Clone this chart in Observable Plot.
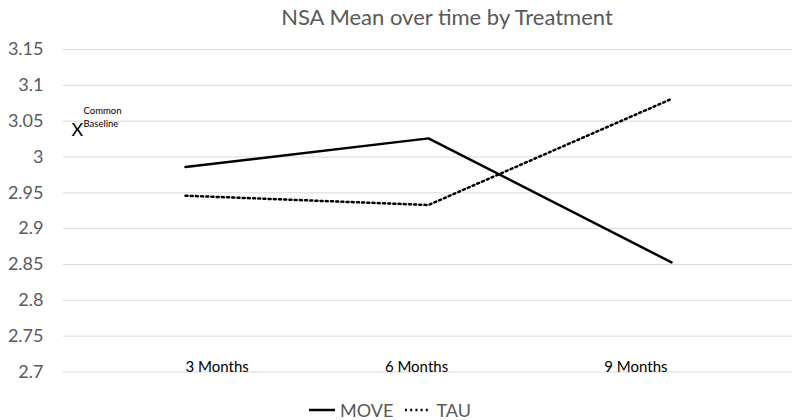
<!DOCTYPE html>
<html>
<head>
<meta charset="utf-8">
<script src="https://cdn.jsdelivr.net/npm/d3@7"></script>
<script src="https://cdn.jsdelivr.net/npm/@observablehq/plot@0.6"></script>
<style>
  body { margin: 0; background: #fff; font-family: Lato, "Open Sans", sans-serif; }
  #title { height: 32px; line-height: 34px; font-size: 22px; color: #595959; text-align: center; padding-left: 94px; box-sizing: border-box; width: 800px; }
  #chart svg { display: block; }
  #legend { height: 23px; padding-top: 3px; display: flex; justify-content: center; align-items: center; padding-right: 20px; box-sizing: border-box; width: 800px; font-size: 18px; line-height: 20px; color: #595959; }
  #legend .item { display: flex; align-items: center; margin: 0 6px; }
  #legend svg { margin-right: 5px; display: block; }
</style>
</head>
<body>
<div id="title">NSA Mean over time by Treatment</div>
<div id="chart"></div>
<div id="legend"></div>
<script>
const months = ["3 Months", "6 Months", "9 Months"];
const moveValues = [2.986, 3.026, 2.853];
const tauValues = [2.946, 2.933, 3.081];
const yTicks = [2.7, 2.75, 2.8, 2.85, 2.9, 2.95, 3, 3.05, 3.1, 3.15];
const seriesNames = ["MOVE", "TAU"];
const baselineValue = 3.038;
const baselineLabel = "Common\nBaseline";

// label alignment (style only)
const labelAnchors = [["start", 0], ["middle", -12], ["end", -4]];

const moveData = months.map((m, i) => ({month: m, value: moveValues[i]}));
const tauData = months.map((m, i) => ({month: m, value: tauValues[i]}));

const chart = Plot.plot({
  width: 800,
  height: 365,
  marginLeft: 63,
  marginRight: 8,
  marginTop: 17,
  marginBottom: 25.5,
  style: {fontFamily: "Lato, 'Open Sans', sans-serif", background: "#fff"},
  x: {type: "point", domain: months, padding: 0.5, axis: null},
  y: {domain: [2.7, 3.15]},
  marks: [
    Plot.ruleY(yTicks, {stroke: "#d9d9d9", strokeWidth: 1}),
    Plot.axisY({ticks: yTicks, tickSize: 0, tickPadding: 20, fontSize: 18, color: "#595959",
      tickFormat: d => String(+d.toFixed(2)), label: null}),
    ...months.map((m, i) => Plot.text([m], {x: d => d, frameAnchor: "bottom", lineAnchor: "bottom",
      textAnchor: labelAnchors[i][0], dx: labelAnchors[i][1], fontSize: 15, fill: "#000"})),
    Plot.line(moveData, {x: "month", y: "value", stroke: "#000", strokeWidth: 2.5}),
    Plot.line(tauData, {x: "month", y: "value", stroke: "#000", strokeWidth: 2.5, strokeDasharray: "2,3.2"}),
    Plot.text([baselineValue], {y: d => d, text: () => "X", frameAnchor: "left", dx: 8, fontSize: 18, fill: "#000"}),
    Plot.text([baselineValue], {y: d => d, text: () => baselineLabel, frameAnchor: "left", textAnchor: "start", dx: 20, dy: -13, fontSize: 9.5, lineHeight: 1.35, fill: "#000"})
  ]
});
document.getElementById("chart").appendChild(chart);

const legend = document.getElementById("legend");
seriesNames.forEach((name, i) => {
  const item = document.createElement("div");
  item.className = "item";
  const dash = i === 0 ? "" : 'stroke-dasharray="2,3.2"';
  item.innerHTML = `<svg width="26" height="10"><line x1="0" x2="26" y1="5" y2="5" stroke="#000" stroke-width="2.5" ${dash}></line></svg><span>${name}</span>`;
  legend.appendChild(item);
});
</script>
</body>
</html>
